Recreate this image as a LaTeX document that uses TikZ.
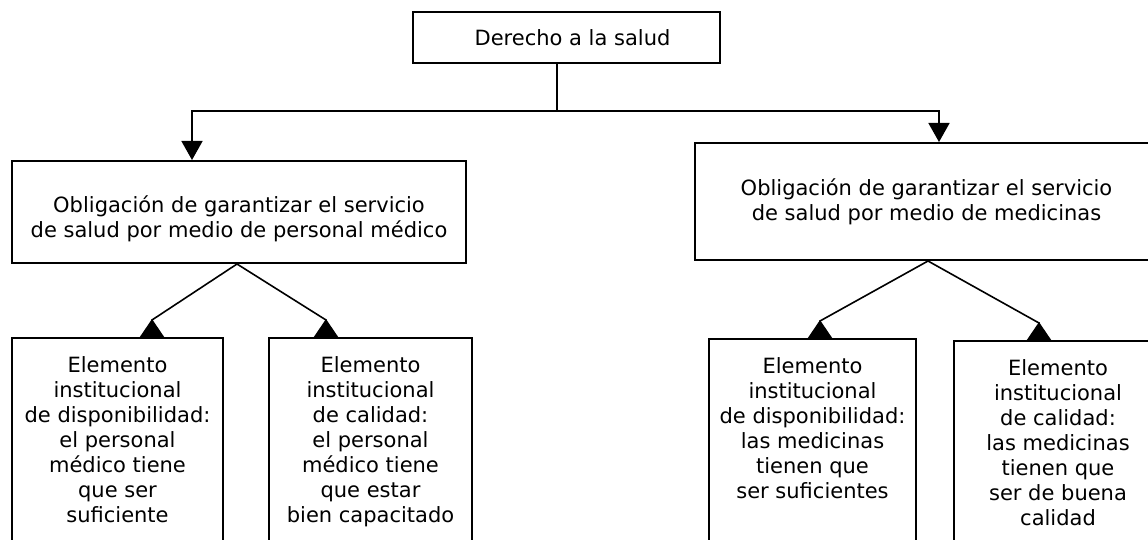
\documentclass[tikz,border=0pt]{standalone}
\usepackage{fontspec}
\setmainfont{DejaVu Sans}
\usetikzlibrary{arrows.meta}
\begin{document}
\begin{tikzpicture}[x=1pt,y=-1pt,
  box/.style={draw, line width=2pt, rectangle, inner sep=0pt, font=\fontsize{21}{25}\selectfont, align=center},
  link/.style={line width=1.6pt},
  arr/.style={link, -{Triangle[width=21pt,length=19pt]}},
  darr/.style={link, -{Triangle[reversed,width=24pt,length=18pt]}}
]
\useasboundingbox (0,0) rectangle (1148,540);
\clip (0,0) rectangle (1148,540);
% boxes
\node[box, minimum width=307pt, minimum height=51pt] (top) at (566.5,37.5) {\hspace*{12pt}Derecho a la salud};
\node[box, minimum width=454pt, minimum height=102pt] (lb) at (239,212)
  {\rule{0pt}{30pt}Obligación de garantizar el servicio\\de salud por medio de personal médico};
\node[box, minimum width=463pt, minimum height=117pt] (rb) at (926.5,201.5)
  {Obligación de garantizar el servicio\\de salud por medio de medicinas};
\node[box, anchor=north west] (ll1) at (11,337)
  {\parbox[t][240pt][t]{211pt}{\centering\vspace*{19pt}Elemento\\institucional\\de disponibilidad:\\el personal\\médico tiene\\que ser\\suficiente}};
\node[box, anchor=north west] (ll2) at (268,337)
  {\parbox[t][240pt][t]{203pt}{\centering\vspace*{19pt}Elemento\\institucional\\de calidad:\\el personal\\médico tiene\\que estar\\bien capacitado}};
\node[box, anchor=north west] (rl1) at (708,338)
  {\parbox[t][240pt][t]{207pt}{\centering\vspace*{19pt}Elemento\\institucional\\de disponibilidad:\\las medicinas\\tienen que\\ser suficientes}};
\node[box, anchor=north west] (rl2) at (953,340)
  {\parbox[t][240pt][t]{208pt}{\centering\vspace*{19pt}Elemento\\institucional\\de calidad:\\las medicinas\\tienen que\\ser de buena\\calidad}};
% connectors
\coordinate (j) at (557,111);
\coordinate (la) at (192,111);
\coordinate (ra) at (939,111);
\draw[link] (top.south -| j) -- (j);
\draw[arr] (j) -- (la) -- (la |- lb.north);
\draw[arr] (j) -- (ra) -- (ra |- rb.north);
\coordinate (a1) at (237,0);
\coordinate (e1) at (152,0);
\coordinate (e2) at (326,0);
\coordinate (a2) at (928,0);
\coordinate (e3) at (820,0);
\coordinate (e4) at (1039,0);
\draw[darr] (a1 |- lb.south) -- ([yshift=17pt]e1 |- ll1.north) -- (e1 |- ll1.north);
\draw[darr] (a1 |- lb.south) -- ([yshift=17pt]e2 |- ll2.north) -- (e2 |- ll2.north);
\draw[darr] (a2 |- rb.south) -- ([yshift=17pt]e3 |- rl1.north) -- (e3 |- rl1.north);
\draw[darr] (a2 |- rb.south) -- ([yshift=17pt]e4 |- rl2.north) -- (e4 |- rl2.north);
\end{tikzpicture}
\end{document}
